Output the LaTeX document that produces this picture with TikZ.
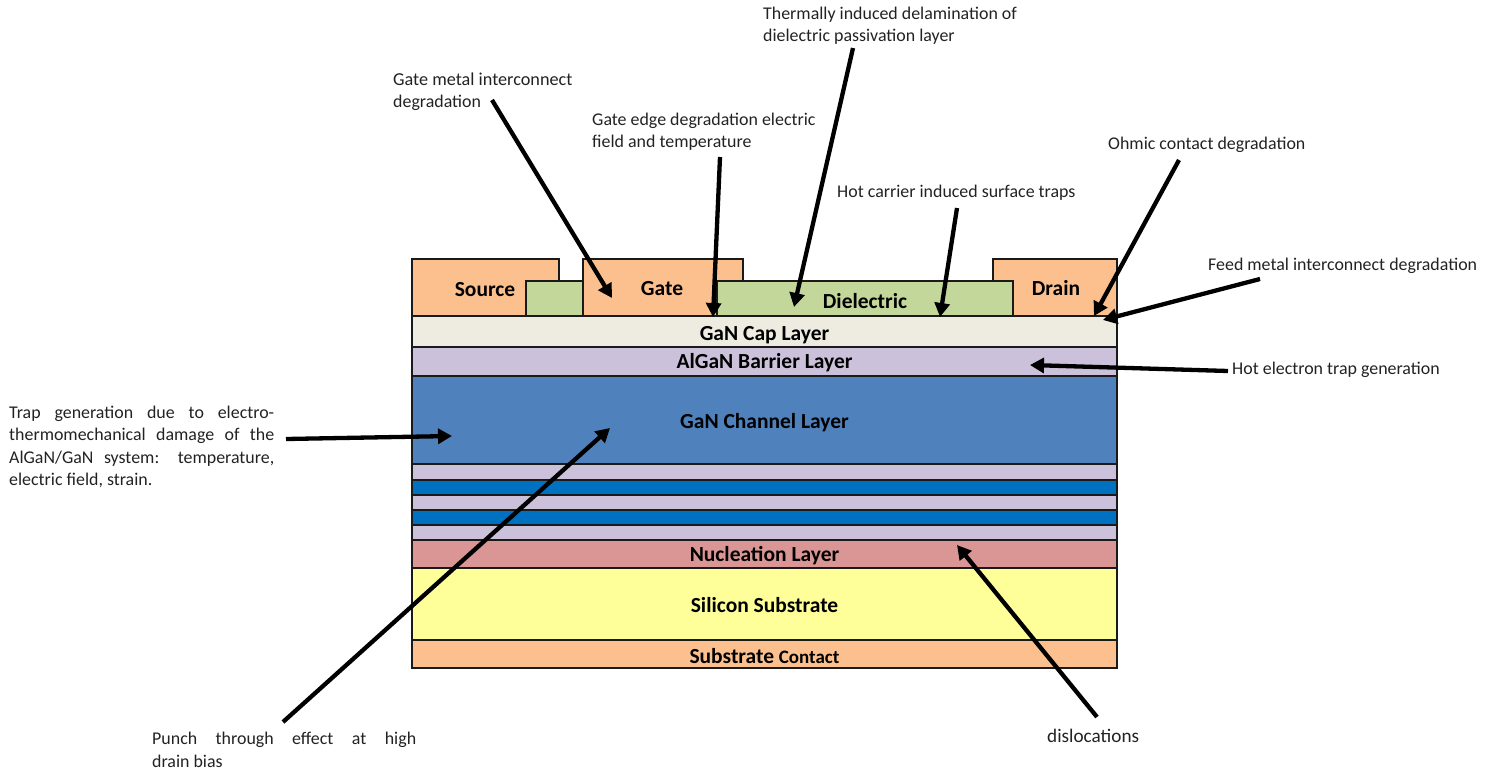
\documentclass[tikz,border=0pt]{standalone}
\usepackage{fontspec}
\setmainfont{Carlito}
\usetikzlibrary{arrows.meta}
\definecolor{metal}{HTML}{FCC08E}
\definecolor{diel}{HTML}{C4D79B}
\definecolor{capc}{HTML}{EEECE1}
\definecolor{lilac}{HTML}{CCC1DA}
\definecolor{chan}{HTML}{4F81BD}
\definecolor{stripe}{HTML}{0070C0}
\definecolor{nucl}{HTML}{D99694}
\definecolor{silicon}{HTML}{FFFF99}
\definecolor{edge}{HTML}{1A1A1A}
\definecolor{txt}{HTML}{222222}
\tikzset{
  layer/.style={draw=edge,line width=2.2pt,anchor=north west,inner sep=0pt,outer sep=0pt,
    minimum width=705pt,font=\fontsize{21.5}{24}\selectfont\bfseries,text=black},
  part/.style={draw=edge,line width=2.2pt},
  partlabel/.style={inner sep=0pt,font=\fontsize{21.5}{24}\selectfont\bfseries,text=black},
  note/.style={inner sep=0pt,anchor=west,align=left,font=\fontsize{17.9}{22.4}\selectfont,text=txt},
  arrowline/.style={line width=4.3pt,draw=black,-{Triangle[length=14pt,width=15pt]},shorten >=0pt}
}
\newcommand{\jline}[2]{\makebox[#1pt][s]{#2}}
\newcommand{\lay}[2]{\raisebox{-#1pt}[0pt][0pt]{#2}}
\begin{document}
\begin{tikzpicture}[x=1pt,y=-1pt]
\useasboundingbox (0,0) rectangle (1491,771);
% metal contacts
\draw[part,fill=metal] (412,259) rectangle (559,316);
\draw[part,fill=metal] (583,259) rectangle (743,316);
\draw[part,fill=metal] (993,259) rectangle (1117,316);
% dielectric
\draw[part,fill=diel] (526,281) rectangle (583,316);
\draw[part,fill=diel] (717,281) rectangle (1013,316);
\node[partlabel] (source) at (485,290) {Source};
\node[partlabel] (gate) at (662,289) {Gate};
\node[partlabel] (drain) at (1056,288.5) {Drain};
\node[partlabel] (dielectric) at (865,301) {Dielectric};
% layers
\node[layer,fill=capc,minimum height=31pt] (cap) at (412,316) {\lay{8.6}{GaN Cap Layer}};
\node[layer,fill=lilac,minimum height=29pt] (barrier) at (412,347) {\lay{6.6}{AlGaN Barrier Layer}};
\node[layer,fill=chan,minimum height=88pt] (channel) at (412,376) {\lay{8.6}{GaN Channel Layer}};
\node[layer,fill=lilac,minimum height=16pt] (s1) at (412,464) {};
\node[layer,fill=stripe,minimum height=15pt] (s2) at (412,480) {};
\node[layer,fill=lilac,minimum height=15pt] (s3) at (412,495) {};
\node[layer,fill=stripe,minimum height=15pt] (s4) at (412,510) {};
\node[layer,fill=lilac,minimum height=15pt] (s5) at (412,525) {};
\node[layer,fill=nucl,minimum height=28pt] (nucleation) at (412,540) {\lay{7.3}{Nucleation Layer}};
\node[layer,fill=silicon,minimum height=72pt] (substrate) at (412,568) {\lay{8}{Silicon Substrate}};
\node[layer,fill=metal,minimum height=28pt] (contact) at (412,640) {\lay{9}{Substrate {\fontsize{19}{22}\selectfont Contact}}};
% notes
\node[note] (n1) at (393,92) {{\fontsize{18.2}{22.4}\selectfont Gate metal interconnect}\\degradation};
\node[note] (n2) at (763,26) {Thermally induced delamination of\\dielectric passivation layer};
\node[note] (n3) at (592,131.5) {Gate edge degradation electric\\field and temperature};
\node[note] (n4) at (837,192.5) {Hot carrier induced surface traps};
\node[note] (n5) at (1108,145) {Ohmic contact degradation};
\node[note] (n6) at (1208,266) {Feed metal interconnect degradation};
\node[note] (n7) at (1232,370) {Hot electron trap generation};
\node[note] (n8) at (9,447) {\jline{265}{Trap generation due to electro-}\\\jline{265}{thermomechanical damage of the}\\\jline{265}{AlGaN/GaN system: temperature,}\\electric field, strain.};
\node[note] (n9) at (152,750) {\jline{264}{Punch through effect at high}\\drain bias};
\node[note,font=\fontsize{19.2}{22.4}\selectfont] (n10) at (1047,736) {dislocations};
% arrow ends
\coordinate (a1s) at (492,100);   \coordinate (a1e) at (612,298);
\coordinate (a2s) at (720,157);   \coordinate (a2e) at (713,317);
\coordinate (a3s) at (853,48);    \coordinate (a3e) at (794,307);
\coordinate (a4s) at (957,208);   \coordinate (a4e) at (940,317);
\coordinate (a5s) at (1179,160);  \coordinate (a5e) at (1094,316);
\coordinate (a6s) at (1260,279);  \coordinate (a6e) at (1103,320);
\coordinate (a7s) at (1228,371);  \coordinate (a7e) at (1030,365);
\coordinate (a8s) at (286,439);   \coordinate (a8e) at (452,436);
\coordinate (a9s) at (283,722);   \coordinate (a9e) at (610,428);
\coordinate (a10s) at (1097,717); \coordinate (a10e) at (957,545);
\draw[arrowline] (a1s) -- (a1e);
\draw[arrowline] (a2s) -- (a2e);
\draw[arrowline] (a3s) -- (a3e);
\draw[arrowline] (a4s) -- (a4e);
\draw[arrowline] (a5s) -- (a5e);
\draw[arrowline] (a6s) -- (a6e);
\draw[arrowline] (a7s) -- (a7e);
\draw[arrowline] (a8s) -- (a8e);
\draw[arrowline] (a9s) -- (a9e);
\draw[arrowline] (a10s) -- (a10e);
\end{tikzpicture}
\end{document}
